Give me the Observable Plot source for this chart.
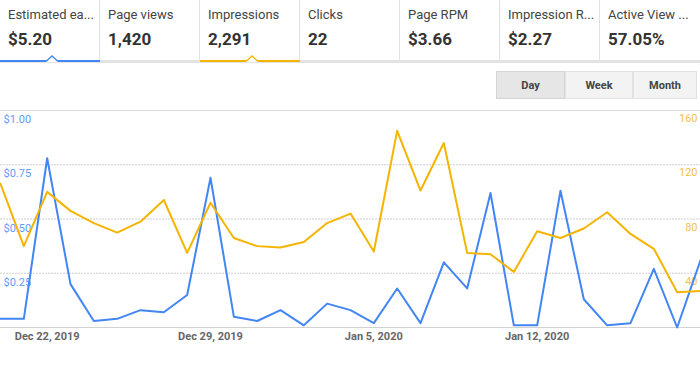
<!DOCTYPE html>
<html>
<head>
<meta charset="utf-8">
<script src="https://cdn.jsdelivr.net/npm/d3@7"></script>
<script src="https://cdn.jsdelivr.net/npm/@observablehq/plot@0.6"></script>
<style>
  html, body { margin: 0; padding: 0; background: #fff; overflow: hidden; }
  body { width: 700px; height: 365px; font-family: Roboto, "Liberation Sans", Arial, sans-serif; }
  #head { position: relative; width: 700px; height: 104px; }
  .tab { position: absolute; top: 0; height: 60px; width: 100px; box-sizing: border-box; border-right: 1px solid #e2e2e2; }
  .tab .t { position: absolute; left: 8px; top: 7px; font-size: 13px; line-height: 16px; color: #444; white-space: nowrap; }
  .tab .v { position: absolute; left: 8px; top: 29px; font-size: 17px; line-height: 20px; font-weight: bold; color: #333; white-space: nowrap; }
  #band { position: absolute; left: 0; top: 60px; width: 700px; height: 3px; background: #e3e3e3; }
  .under { position: absolute; top: 60px; height: 2px; width: 100px; }
  .caret { position: absolute; top: 55px; }
  #btns { position: absolute; left: 496px; top: 71px; height: 28px; display: flex; }
  .btn { height: 28px; box-sizing: border-box; border: 1px solid #e2e2e2; background: #f3f3f3; font-size: 11px; font-weight: bold; color: #444; display: flex; align-items: center; justify-content: center; }
  .btn.sel { background: #e6e6e6; border-color: #d6d6d6; }
</style>
</head>
<body>
<div id="head"></div>
<div id="chart"></div>
<script>
// ---- data ----
const tabTitles = ["Estimated ea...", "Page views", "Impressions", "Clicks", "Page RPM", "Impression R...", "Active View ..."];
const tabValues = ["$5.20", "1,420", "2,291", "22", "$3.66", "$2.27", "57.05%"];
const periodButtons = ["Day", "Week", "Month"];

const dates = [
  "2019-12-20","2019-12-21","2019-12-22","2019-12-23","2019-12-24","2019-12-25","2019-12-26",
  "2019-12-27","2019-12-28","2019-12-29","2019-12-30","2019-12-31","2020-01-01","2020-01-02",
  "2020-01-03","2020-01-04","2020-01-05","2020-01-06","2020-01-07","2020-01-08","2020-01-09",
  "2020-01-10","2020-01-11","2020-01-12","2020-01-13","2020-01-14","2020-01-15","2020-01-16",
  "2020-01-17","2020-01-18","2020-01-19"
];
const earnings = [
  0.04, 0.04, 0.78, 0.20, 0.03, 0.04, 0.08,
  0.07, 0.15, 0.69, 0.05, 0.03, 0.08, 0.01,
  0.11, 0.08, 0.02, 0.18, 0.02, 0.30, 0.18,
  0.62, 0.01, 0.01, 0.63, 0.13, 0.01, 0.02,
  0.27, 0.00, 0.31
];
const impressions = [
  106, 60, 100, 86, 77, 70, 78,
  94, 55, 92, 66, 60, 59, 63,
  77, 84, 56, 145, 101, 136, 55,
  54, 41, 71, 66, 73, 85, 69,
  58, 26, 27
];
const leftTicks = [0.25, 0.5, 0.75, 1.0];
const leftTickLabels = ["$0.25", "$0.50", "$0.75", "$1.00"];
const rightTickLabels = ["40", "80", "120", "160"];
const impressionsMax = 160;
const xTickDates = ["2019-12-22", "2019-12-29", "2020-01-05", "2020-01-12"];
const xTickLabels = ["Dec 22, 2019", "Dec 29, 2019", "Jan 5, 2020", "Jan 12, 2020"];

// ---- header (tabs + buttons) ----
const BLUE = "#4285f4", ORANGE = "#f4b400";
const head = document.getElementById("head");
let html = '<div id="band"></div>';
tabTitles.forEach((t, i) => {
  html += `<div class="tab" style="left:${i*100}px;${i===6?'border-right:none;':''}"><div class="t">${t}</div><div class="v">${tabValues[i]}</div></div>`;
});
const active = [[0, BLUE], [2, ORANGE]];
active.forEach(([i, c]) => {
  html += `<div class="under" style="left:${i*100}px;background:${c}"></div>`;
  html += `<svg class="caret" style="left:${i*100+46}px" width="12" height="8"><polygon points="0,7 6,1 12,7" fill="#fff"/><polyline points="0.5,6 6,1 11.5,6" fill="none" stroke="${c}" stroke-width="1.3"/></svg>`;
});
html += '<div id="btns">' + periodButtons.map((b, i) =>
  `<div class="btn${i===0?' sel':''}" style="width:${[69,68,64][i]}px">${b}</div>`).join("") + '</div>';
head.innerHTML = html;

// ---- chart ----
const parse = d3.utcParse("%Y-%m-%d");
const rows = dates.map((d, i) => ({date: parse(d), earn: earnings[i], imp: impressions[i] / impressionsMax}));
const xt = xTickDates.map((d, i) => ({date: parse(d), label: xTickLabels[i]}));
const lt = leftTicks.map((v, i) => ({v, left: leftTickLabels[i], right: rightTickLabels[i]}));

const chart = Plot.plot({
  width: 700,
  height: 261,
  marginTop: 6,
  marginBottom: 38,
  marginLeft: 0,
  marginRight: 0,
  style: {fontFamily: "Roboto, 'Liberation Sans', Arial, sans-serif", background: "#fff", overflow: "visible"},
  x: {type: "utc", domain: [parse(dates[0]), parse(dates[dates.length - 1])], axis: null},
  y: {domain: [0, 1], axis: null},
  marks: [
    Plot.ruleY([0.25, 0.5, 0.75], {stroke: "#cfcfcf", strokeWidth: 1, strokeDasharray: "2,1"}),
    Plot.ruleY([1], {stroke: "#dcdcdc", strokeWidth: 1}),
    Plot.ruleY([0], {stroke: "#d2d2d2", strokeWidth: 1}),
    Plot.text(lt, {y: "v", text: "left", frameAnchor: "left", textAnchor: "start", dx: 3, dy: 9, fill: "#5f9bf7", fontSize: 11}),
    Plot.text(lt, {y: "v", text: "right", frameAnchor: "right", textAnchor: "end", dx: -3, dy: 8, fill: "#f6c14a", fontSize: 11}),
    Plot.line(rows, {x: "date", y: "earn", stroke: BLUE, strokeWidth: 2}),
    Plot.line(rows, {x: "date", y: "imp", stroke: ORANGE, strokeWidth: 2}),
    Plot.text(xt, {x: "date", text: "label", frameAnchor: "bottom", dy: 12, fill: "#666", fontSize: 11, fontWeight: "bold"})
  ]
});
document.getElementById("chart").appendChild(chart);
</script>
</body>
</html>
